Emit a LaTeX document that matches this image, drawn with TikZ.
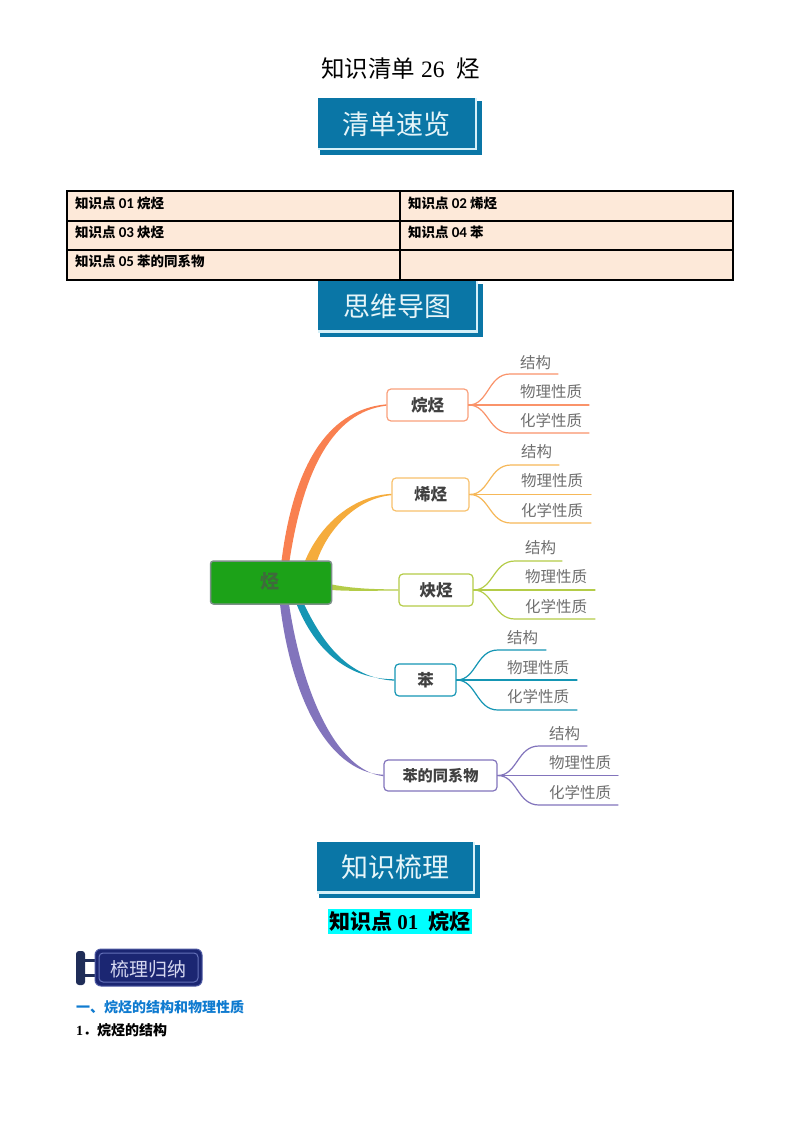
\documentclass[tikz,border=0pt]{standalone}
\usepackage{fontspec}
\usetikzlibrary{calc}
\setmainfont{Liberation Serif}
\newfontfamily\cjk{Noto Sans CJK SC}
\newfontfamily\calb{Carlito}
\definecolor{bannerblue}{HTML}{0A76A6}
\definecolor{banneredge}{HTML}{D5F0F8}
\definecolor{bannerink}{HTML}{E6F5F9}
\definecolor{cellfill}{HTML}{FDE9D9}
\definecolor{cOrange}{HTML}{F98050}
\definecolor{cYellow}{HTML}{F5AC3C}
\definecolor{cLime}{HTML}{B4CC48}
\definecolor{cTeal}{HTML}{1596B4}
\definecolor{cPurple}{HTML}{8274BC}
\definecolor{labelgray}{HTML}{707070}
\definecolor{boxtext}{HTML}{404040}
\definecolor{rootfill}{HTML}{1CA218}
\definecolor{rootline}{HTML}{7C9088}
\definecolor{roottext}{HTML}{3F6A3C}
\definecolor{navy}{HTML}{1B2672}
\definecolor{navyline}{HTML}{6470B8}
\definecolor{navypost}{HTML}{1F2D58}
\definecolor{headblue}{HTML}{0F7BD0}
\definecolor{hilite}{HTML}{00FFFF}
\definecolor{signink}{HTML}{D6D8F0}
\tikzset{
  x=1pt,y=-1pt,
  bannertext/.style={text=bannerink,font=\cjk\fontsize{27}{29}\selectfont,inner sep=0pt},
  cell/.style={draw=black,line width=1.8pt,fill=cellfill,minimum width=333pt,minimum height=29.5pt,inner sep=0pt},
  celltext/.style={anchor=west,inner sep=0pt,font=\cjk\bfseries\fontsize{13.5}{15}\selectfont},
  mainbox/.style={draw=#1,fill=white,line width=1.2pt,rounded corners=4pt,inner sep=0pt,text=boxtext,font=\cjk\bfseries\fontsize{16.5}{18}\selectfont},
  sublabel/.style={anchor=west,inner sep=0pt,text=labelgray,font=\cjk\fontsize{15.5}{17}\selectfont},
  subline/.style={draw=#1,line width=1.2pt,line cap=round},
}
% banner: name, x1, y1, x2, y2, text
\newcommand{\bannerat}[6]{%
  \fill[bannerblue] (#2+2,#3+3) rectangle (#4+6.5,#5+7);
  \fill[banneredge] (#2,#3) rectangle (#4+2,#5+2.5);
  \fill[bannerblue] (#2,#3) rectangle (#4,#5);
  \node[bannertext] (#1) at ({(#2+#4)/2},{(#3+#5)/2+1}) {#6};
}
% tapered main branch
\newcommand{\taper}[9]{%
  \fill[#1] (#2) .. controls (#3) and (#4) .. ($(#5)+(0,-.7)$) -- ($(#6)+(0,.7)$) .. controls (#7) and (#8) .. (#9) -- cycle;
}
% sub-branches: box, colour, bend x, short end x, long end x, ytop, ymid, ybot
\newcommand{\subs}[8]{%
  \coordinate (#1t) at (#4,#6);
  \coordinate (#1m) at (#5,#7);
  \coordinate (#1b) at (#5,#8);
  \draw[subline=#2] (#1.east) .. controls ($(#1.east)+(20,0)$) and ($(#3,#6)+(-22,0)$) .. (#3,#6) -- (#1t);
  \draw[subline=#2] (#1.east) -- (#1m);
  \draw[subline=#2] (#1.east) .. controls ($(#1.east)+(20,0)$) and ($(#3,#8)+(-22,0)$) .. (#3,#8) -- (#1b);
}
\newcommand{\sublabels}[5]{%
  \node[sublabel] (#1l1) at (#2,#3) {结构};
  \node[sublabel] (#1l2) at (#2,#4) {物理性质};
  \node[sublabel] (#1l3) at (#2,#5) {化学性质};
}
\begin{document}
\begin{tikzpicture}
\useasboundingbox (0,0) rectangle (800,1134);
\fill[white] (0,0) rectangle (800,1134);

% title
\node[inner sep=0pt,font=\fontsize{23.5}{26}\selectfont] (title) at (400.5,69) {{\cjk 知识清单} 26\ \ {\cjk 烃}};

\bannerat{b1}{318}{98}{475}{148}{清单速览}

% table
\node[cell] (c1) at (233.5,206) {};
\node[cell] (c2) at (566.5,206) {};
\node[cell] (c3) at (233.5,235.5) {};
\node[cell] (c4) at (566.5,235.5) {};
\node[cell] (c5) at (233.5,265) {};
\node[cell] (c6) at (566.5,265) {};
\node[celltext] (t1) at (75,203) {知识点 {\calb\bfseries\fontsize{15}{15}\selectfont 01} 烷烃};
\node[celltext] (t2) at (408,203) {知识点 {\calb\bfseries\fontsize{15}{15}\selectfont 02} 烯烃};
\node[celltext] (t3) at (75,232) {知识点 {\calb\bfseries\fontsize{15}{15}\selectfont 03} 炔烃};
\node[celltext] (t4) at (408,232) {知识点 {\calb\bfseries\fontsize{15}{15}\selectfont 04} 苯};
\node[celltext] (t5) at (75,261) {知识点 {\calb\bfseries\fontsize{15}{15}\selectfont 05} 苯的同系物};

\bannerat{b2}{318}{281}{476}{330}{思维导图}

% mind map
\node[mainbox=cOrange!75!white,minimum width=81pt,minimum height=32pt] (n1) at (427.5,405) {烷烃};
\node[mainbox=cYellow!75!white,minimum width=77pt,minimum height=33pt] (n2) at (430.5,494.5) {烯烃};
\node[mainbox=cLime,minimum width=74pt,minimum height=32pt] (n3) at (436,590) {炔烃};
\node[mainbox=cTeal,minimum width=61pt,minimum height=32pt] (n4) at (425.5,680) {苯};
\node[mainbox=cPurple,minimum width=113pt,minimum height=31pt,font=\cjk\bfseries\fontsize{15.2}{17}\selectfont] (n5) at (440.5,775.5) {苯的同系物};

\taper{cOrange}{281.5,561}{293,470}{325,410}{n1.west}{n1.west}{332,412}{303,472}{289.5,561}
\taper{cYellow}{305,561}{320,525}{352,496}{n2.west}{n2.west}{358,498}{328,528}{317,561}
\taper{cLime}{332,584.5}{352,588.5}{375,589.5}{n3.west}{n3.west}{375,590.5}{352,591.5}{332,590}
\taper{cTeal}{296.5,604}{315,650}{347,679}{n4.west}{n4.west}{352,678}{326,650}{304,604}
\taper{cPurple}{280,604}{290,690}{325,772}{n5.west}{n5.west}{335,770}{302,690}{289,604}

\node[draw=rootline,fill=rootfill,line width=1.5pt,rounded corners=3pt,minimum width=121pt,minimum height=43pt,inner sep=0pt] (root) at (271,582.5) {};
\node[inner sep=0pt,text=roottext,font=\cjk\bfseries\fontsize{19}{21}\selectfont] (rootlabel) at (270,581.5) {烃};

\subs{n1}{cOrange!85!white}{510}{558}{589}{374}{405}{433}
\sublabels{n1}{520}{363}{392}{421}
\subs{n2}{cYellow!85!white}{511}{559}{591}{465}{494.5}{523}
\sublabels{n2}{521}{452}{481}{511}
\subs{n3}{cLime}{515}{562}{595}{561}{590}{619}
\sublabels{n3}{525}{548}{577}{607}
\subs{n4}{cTeal}{498}{546}{577}{650}{680}{710}
\sublabels{n4}{507}{638}{668}{697}
\subs{n5}{cPurple}{539}{587}{618}{746}{775.5}{805}
\sublabels{n5}{549}{734}{763}{793}

\bannerat{b3}{317}{842}{473}{891}{知识梳理}

% heading
\fill[hilite] (328,909) rectangle (472,934);
\node[inner sep=0pt,font=\bfseries\fontsize{21}{23}\selectfont] (h1) at (400,922) {{\cjk 知识点} 01\ \ {\cjk 烷烃}};

% sign
\fill[navypost,rounded corners=3pt] (76,951) rectangle (85,985);
\fill[navypost] (85,959) rectangle (97,961.5);
\fill[navypost] (85,974) rectangle (97,976.5);
\node[fill=navy,draw=navyline!70!navy,line width=1pt,rounded corners=6pt,minimum width=107pt,minimum height=37pt,inner sep=0pt] (sign) at (148.5,967.5) {};
\node[draw=navyline,line width=1pt,rounded corners=4pt,minimum width=99pt,minimum height=29pt,inner sep=0pt] (signframe) at (148.5,967.5) {};
\node[inner sep=0pt,text=signink,font=\cjk\fontsize{19}{21}\selectfont] (signtext) at (148.5,969) {梳理归纳};

\node[anchor=west,inner sep=0pt,text=headblue,font=\cjk\bfseries\fontsize{14}{16}\selectfont] (s1) at (76,1007) {一、烷烃的结构和物理性质};
\node[anchor=west,inner sep=0pt,font=\bfseries\fontsize{14}{16}\selectfont] (s2) at (76,1030) {1{\cjk ．烷烃的结构}};
\end{tikzpicture}
\end{document}
